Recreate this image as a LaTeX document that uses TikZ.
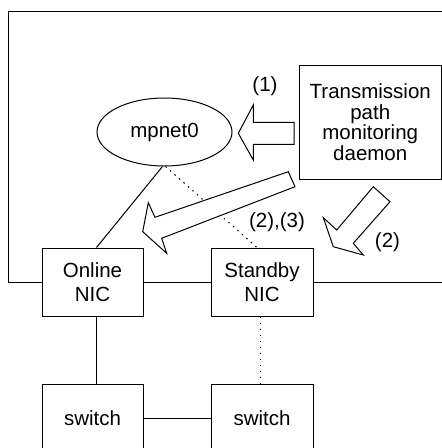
\documentclass[tikz,border=0pt]{standalone}
\usepackage{fontspec}
\setmainfont{Liberation Sans}
\usetikzlibrary{shapes.geometric,calc}
\begin{document}
\begin{tikzpicture}[x=1pt,y=-1pt,line width=1pt,
  every node/.style={font=\fontsize{20.5}{20.6}\selectfont, inner sep=0pt},
  box/.style={draw,fill=white,rectangle,minimum width=101pt,minimum height=68pt,align=center,
    font=\fontsize{20.5}{24}\selectfont},
  blockarrow/.style={draw,fill=white,line join=miter},
  dotline/.style={dash pattern=on 1.5pt off 4.5pt}]
\useasboundingbox (0,0) rectangle (442,448);
\clip (0,0) rectangle (442,448);
\fill[white] (0,0) rectangle (442,448);
% outer frame
\draw (450,11) -- (8,11) -- (8,282) -- (450,282);
% nodes
\node[draw,fill=white,ellipse,minimum width=135pt,minimum height=68pt] (m) at (164.5,132) {mpnet0};
\node[draw,fill=white,rectangle,minimum width=142.5pt,minimum height=114pt,align=center] (d) at (370.25,122)
  {Transmission\\path\\monitoring\\daemon};
\node[box] (on) at (92.5,282) {Online\\NIC};
\node[box,minimum width=102pt] (sb) at (262,282) {Standby\\NIC};
\node[box] (sw1) at (92.5,418) {switch};
\node[box,minimum width=102pt] (sw2) at (262,418) {switch};
% labels
\node (l1) at (265,86) {(1)};
\node (l23) at (277,222) {(2),(3)};
\node (l2) at (387.5,242) {(2)};
% connectors
\draw ([xshift=-2pt]m.south) -- ([xshift=4pt]on.north);
\draw[dotline] ([xshift=1pt]m.south) -- ([xshift=-5pt]sb.north);
\draw ([xshift=3.5pt]on.south) -- ([xshift=3.5pt]sw1.north);
\draw[dotline] ([xshift=-2pt]sb.south) -- ([xshift=-2pt]sw2.north);
\draw (sw1.east) -- (sw2.west);
% block arrows
\draw[blockarrow] (294,122.3) -- (253.3,122.3) -- (253.3,105) -- (238.3,133.3) -- (253.3,160) -- (253.3,144.3) -- (294,144.3) -- cycle;
\draw[blockarrow] (288.3,171.7) -- (155,217.3) -- (148.3,202.7) -- (142.7,231.7) -- (166.7,253.3) -- (161.7,238.3) -- (295,186.7) -- cycle;
\draw[blockarrow] (373.3,186.7) -- (336.7,230) -- (323.3,217.7) -- (333.3,246.7) -- (363.3,255) -- (353.3,243.3) -- (390,201.7) -- cycle;
\end{tikzpicture}
\end{document}
